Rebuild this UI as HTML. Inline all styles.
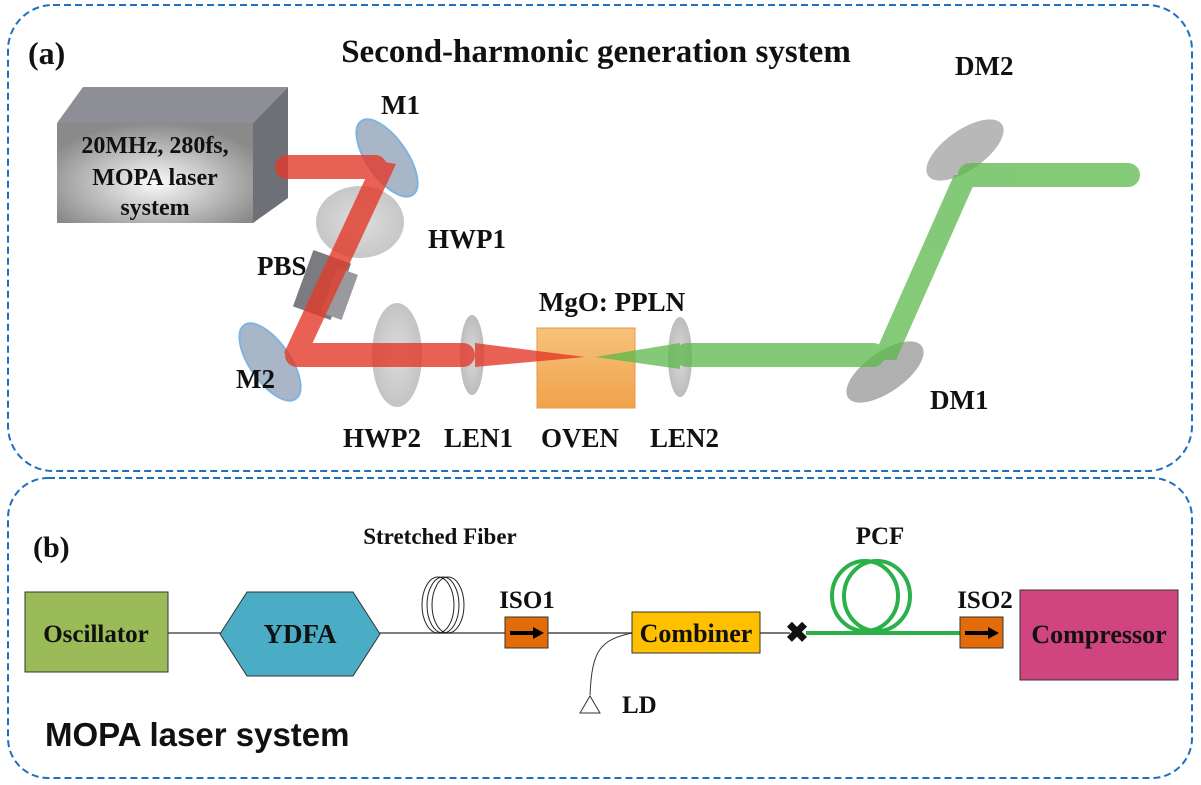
<!DOCTYPE html>
<html><head><meta charset="utf-8"><style>body{margin:0;background:#fff}svg{display:block}text{font-family:"Liberation Serif",serif;font-weight:bold;fill:#111}</style></head><body>
<svg width="1201" height="785" viewBox="0 0 1201 785">
<defs>
<radialGradient id="lg" cx="0.5" cy="0.6" r="0.6"><stop offset="0" stop-color="#fafafa"/><stop offset="1" stop-color="#8a8a8a"/></radialGradient>
<linearGradient id="ov" x1="0" y1="0" x2="0" y2="1"><stop offset="0" stop-color="#f6c37a"/><stop offset="1" stop-color="#f0a24a"/></linearGradient>
<radialGradient id="gl" cx="0.5" cy="0.5" r="0.5"><stop offset="0" stop-color="#d8d8d8"/><stop offset="1" stop-color="#bdbdbd"/></radialGradient>
</defs>
<rect x="8" y="5" width="1184" height="466" rx="45" fill="none" stroke="#1f6fbf" stroke-width="2" stroke-dasharray="7,4"/>
<rect x="8" y="478" width="1184" height="300" rx="40" fill="none" stroke="#1f6fbf" stroke-width="2" stroke-dasharray="7,4"/>
<text x="28" y="64" font-size="32">(a)</text>
<text x="596" y="62" font-size="33" text-anchor="middle">Second-harmonic generation system</text>
<polygon points="57,123 83,87 288,87 253,123" fill="#8e8f96"/>
<polygon points="253,123 288,87 288,198 253,223" fill="#6e7078"/>
<rect x="57" y="123" width="196" height="100" fill="url(#lg)"/>
<text x="155" y="153" font-size="24" text-anchor="middle">20MHz, 280fs,</text>
<text x="155" y="185" font-size="24" text-anchor="middle">MOPA laser</text>
<text x="155" y="215" font-size="24" text-anchor="middle">system</text>
<ellipse cx="360" cy="222" rx="44" ry="36" fill="url(#gl)" opacity="0.85"/>
<rect x="302" y="255" width="40" height="60" fill="#7a7c80" transform="rotate(20 322 285)"/>
<rect x="328" y="270" width="22" height="48" fill="#9a9a9e" transform="rotate(20 340 295)"/>
<ellipse cx="397" cy="355" rx="25" ry="52" fill="url(#gl)" opacity="0.9"/>
<ellipse cx="472" cy="355" rx="12" ry="40" fill="url(#gl)"/>
<ellipse cx="680" cy="357" rx="12" ry="40" fill="url(#gl)"/>
<ellipse cx="387" cy="158" rx="20" ry="45" fill="#a8b6c8" stroke="#7fb3e0" stroke-width="2" transform="rotate(-35 387 158)"/>
<ellipse cx="270" cy="362" rx="20" ry="45" fill="#a8b6c8" stroke="#7fb3e0" stroke-width="2" transform="rotate(-35 270 362)"/>
<ellipse cx="965" cy="150" rx="20" ry="45" fill="#b8b8b8" transform="rotate(55 965 150)"/>
<ellipse cx="885" cy="372" rx="20" ry="45" fill="#b0b0b0" transform="rotate(55 885 372)"/>
<rect x="537" y="328" width="98" height="80" fill="url(#ov)" stroke="#e59a4a"/>
<g fill="#e33a2a" opacity="0.8">
<rect x="275" y="155" width="112" height="24" rx="12"/>
<polygon points="374,160 396,164 306,357 284,353"/>
<rect x="285" y="343" width="190" height="24" rx="12"/>
<polygon points="475,343 585,357 475,367"/>
</g>
<g fill="#5cb84a" opacity="0.75">
<polygon points="595,357 680,343 680,369"/>
<rect x="675" y="343" width="210" height="24" rx="12"/>
<polygon points="872,360 896,360 978,175 954,175"/>
<rect x="958" y="163" width="182" height="24" rx="12"/>
</g>
<text x="381" y="114" font-size="27">M1</text>
<text x="428" y="248" font-size="27">HWP1</text>
<text x="257" y="275" font-size="27">PBS</text>
<text x="612" y="311" font-size="27" text-anchor="middle">MgO: PPLN</text>
<text x="236" y="388" font-size="27">M2</text>
<text x="343" y="447" font-size="27">HWP2</text>
<text x="444" y="447" font-size="27">LEN1</text>
<text x="541" y="447" font-size="27">OVEN</text>
<text x="650" y="447" font-size="27">LEN2</text>
<text x="930" y="409" font-size="27">DM1</text>
<text x="955" y="75" font-size="27">DM2</text>
<text x="33" y="557" font-size="30">(b)</text>
<text x="440" y="544" font-size="23" text-anchor="middle">Stretched Fiber</text>
<line x1="168" y1="633" x2="505" y2="633" stroke="#555" stroke-width="1.5"/>
<line x1="548" y1="633" x2="632" y2="633" stroke="#777" stroke-width="2"/>
<line x1="760" y1="633" x2="790" y2="633" stroke="#777" stroke-width="2"/>
<g fill="none" stroke="#222" stroke-width="1">
<ellipse cx="438" cy="605" rx="16" ry="28"/><ellipse cx="443" cy="605" rx="16" ry="28"/><ellipse cx="448" cy="605" rx="16" ry="28"/></g>
<rect x="25" y="592" width="143" height="80" fill="#9bbb59" stroke="#333"/>
<text x="96" y="642" font-size="25" text-anchor="middle">Oscillator</text>
<polygon points="220,634 247,592 353,592 380,634 353,676 247,676" fill="#4bacc6" stroke="#333"/>
<text x="300" y="643" font-size="27" text-anchor="middle">YDFA</text>
<rect x="505" y="617" width="43" height="31" fill="#e36c09" stroke="#333"/>
<path d="M510 633 H535" stroke="#000" stroke-width="4"/><polygon points="533,627 544,633 533,639" fill="#000"/>
<text x="527" y="608" font-size="25" text-anchor="middle">ISO1</text>
<path d="M632 633 C600 640 592 650 590 695" fill="none" stroke="#333" stroke-width="1"/>
<polygon points="590,696 580,713 600,713" fill="#fff" stroke="#333"/>
<text x="622" y="713" font-size="25">LD</text>
<rect x="632" y="612" width="128" height="41" fill="#ffc000" stroke="#333"/>
<text x="696" y="642" font-size="26" text-anchor="middle">Combiner</text>
<text x="797" y="642" font-size="28" text-anchor="middle">✖</text>
<line x1="806" y1="633" x2="960" y2="633" stroke="#2bb04a" stroke-width="4"/>
<g fill="none" stroke="#2bb04a" stroke-width="4"><ellipse cx="865" cy="596" rx="33" ry="35"/><ellipse cx="877" cy="596" rx="33" ry="35"/></g>
<text x="880" y="544" font-size="25" text-anchor="middle">PCF</text>
<rect x="960" y="617" width="43" height="31" fill="#e36c09" stroke="#333"/>
<path d="M965 633 H990" stroke="#000" stroke-width="4"/><polygon points="988,627 999,633 988,639" fill="#000"/>
<text x="985" y="608" font-size="25" text-anchor="middle">ISO2</text>
<rect x="1020" y="590" width="158" height="90" fill="#d0457f" stroke="#333"/>
<text x="1099" y="643" font-size="26" text-anchor="middle">Compressor</text>
<text x="45" y="746" font-size="33" style="font-family:'Liberation Sans',sans-serif">MOPA laser system</text>
</svg>
</body></html>
